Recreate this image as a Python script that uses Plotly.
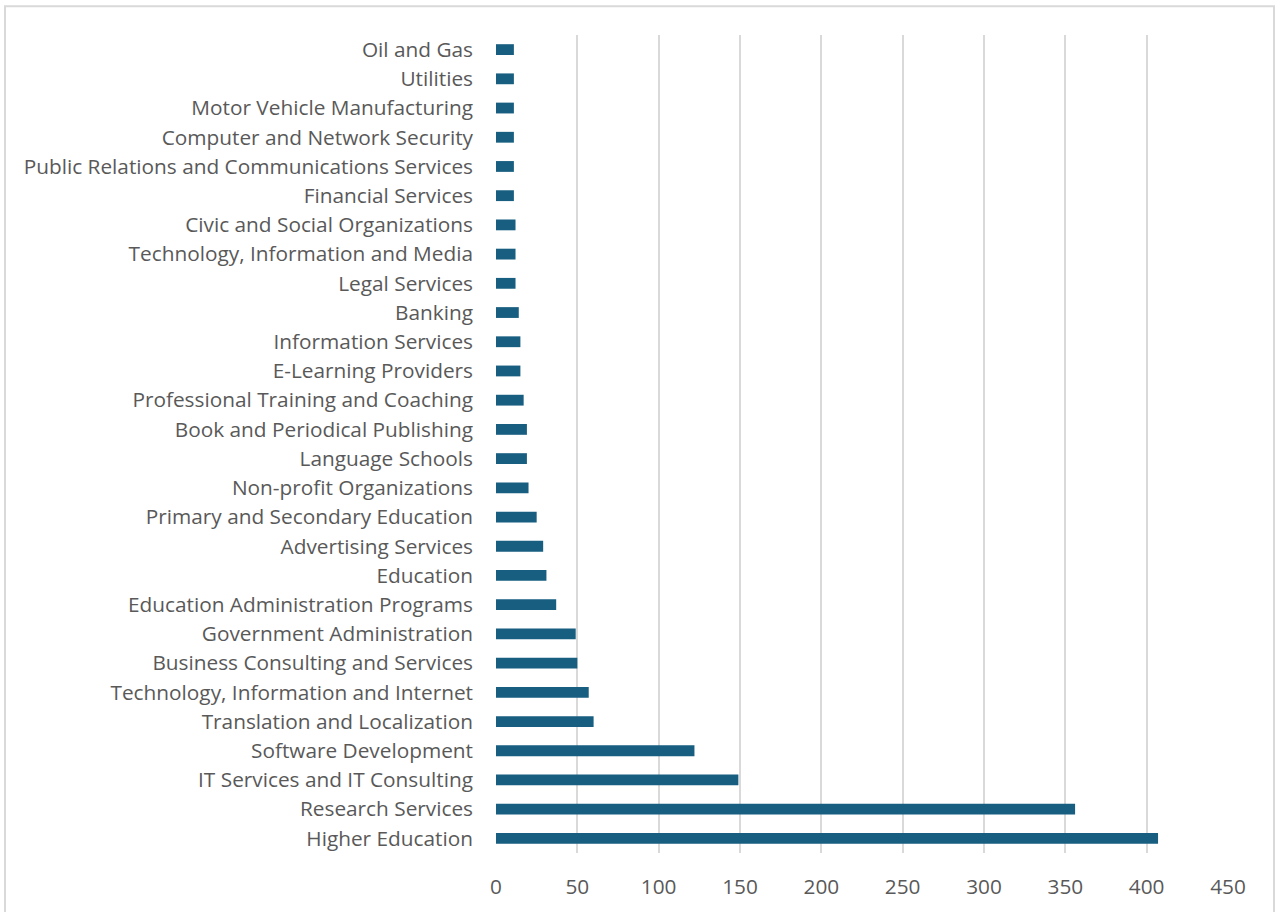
import plotly.graph_objects as go

# Industries (bottom to top as drawn) and their counts
industries = [
    "Higher Education",
    "Research Services",
    "IT Services and IT Consulting",
    "Software Development",
    "Translation and Localization",
    "Technology, Information and Internet",
    "Business Consulting and Services",
    "Government Administration",
    "Education Administration Programs",
    "Education",
    "Advertising Services",
    "Primary and Secondary Education",
    "Non-profit Organizations",
    "Language Schools",
    "Book and Periodical Publishing",
    "Professional Training and Coaching",
    "E-Learning Providers",
    "Information Services",
    "Banking",
    "Legal Services",
    "Technology, Information and Media",
    "Civic and Social Organizations",
    "Financial Services",
    "Public Relations and Communications Services",
    "Computer and Network Security",
    "Motor Vehicle Manufacturing",
    "Utilities",
    "Oil and Gas",
]
counts = [407, 356, 149, 122, 60, 57, 50, 49, 37, 31, 29, 25, 20, 19, 19,
          17, 15, 15, 14, 12, 12, 12, 11, 11, 11, 11, 11, 11]
x_ticks = [0, 50, 100, 150, 200, 250, 300, 350, 400, 450]

BAR = "#175E80"
TEXT = "#595959"
GRID = "#D9D9D9"
FONT = "Open Sans"
FSIZE = 20.8

fig = go.Figure(
    go.Bar(
        x=counts,
        y=industries,
        orientation="h",
        marker=dict(color=BAR, line=dict(width=0)),
        hoverinfo="x+y",
    )
)

W, H = 1279, 912
L, R, T, B = 496, 51, 35, 55
pw, ph = W - L - R, H - T - B

fig.update_layout(
    width=W,
    height=H,
    margin=dict(l=L, r=R, t=T, b=B, pad=0),
    paper_bgcolor="white",
    plot_bgcolor="white",
    bargap=0.63,
    showlegend=False,
    font=dict(family=FONT, size=FSIZE, color=TEXT),
    xaxis=dict(
        range=[0, 450],
        tickvals=x_ticks,
        ticktext=[str(v) for v in x_ticks],
        showgrid=True,
        gridcolor=GRID,
        gridwidth=2,
        zeroline=False,
        showline=False,
        ticks="",
        ticklabelstandoff=19,
        tickfont=dict(family=FONT, size=FSIZE, color=TEXT),
        fixedrange=True,
    ),
    yaxis=dict(
        categoryorder="array",
        categoryarray=industries,
        showgrid=False,
        zeroline=False,
        showline=False,
        ticks="",
        ticklabelstandoff=22,
        tickfont=dict(family=FONT, size=FSIZE, color=TEXT),
        fixedrange=True,
    ),
    shapes=[
        # chart frame around the whole figure
        dict(
            type="rect",
            xref="paper",
            yref="paper",
            x0=(5 - L) / pw,
            x1=(1274 - L) / pw,
            y0=-(H + 10 - (H - B)) / ph,
            y1=1 + (T - 6) / ph,
            line=dict(color=GRID, width=2),
            layer="below",
        )
    ],
)

fig.write_html("out.html")
